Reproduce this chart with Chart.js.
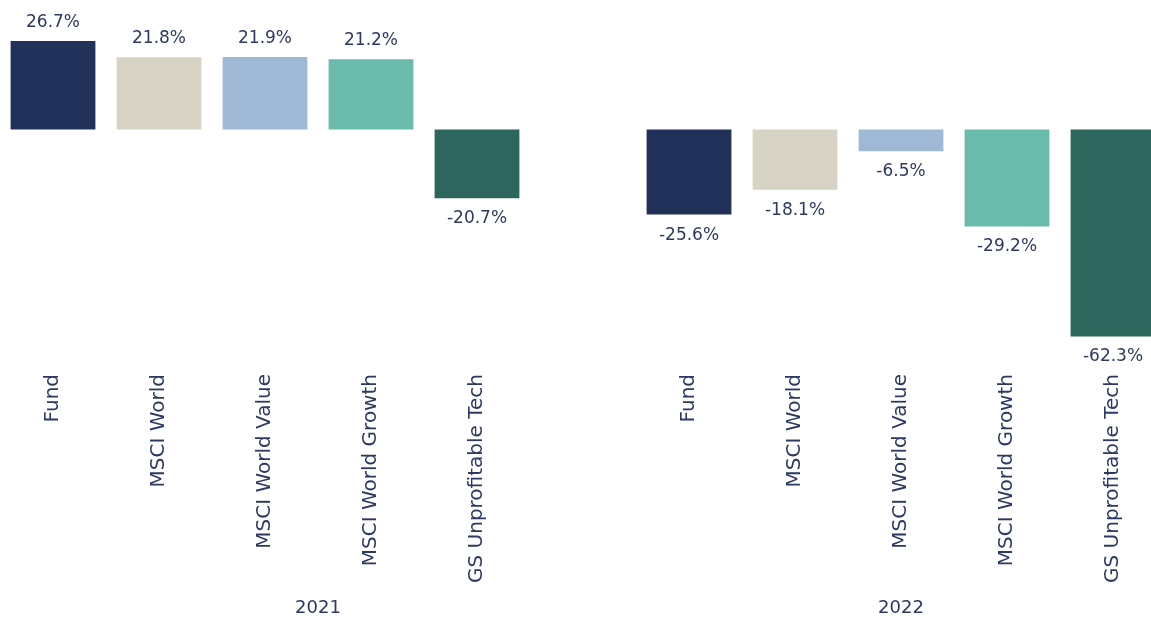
<!DOCTYPE html>
<html>
<head>
<meta charset="utf-8">
<script src="https://cdn.jsdelivr.net/npm/chart.js@4.4.1/dist/chart.umd.min.js"></script>
<style>
  html, body { margin: 0; padding: 0; background: #ffffff; overflow: hidden; }
  #wrap { width: 1166px; height: 619px; }
</style>
</head>
<body>
<div id="wrap"><canvas id="grafico" width="1166" height="619"></canvas></div>
<script>
// Datos del gráfico
const categorias = ['Fund', 'MSCI World', 'MSCI World Value', 'MSCI World Growth', 'GS Unprofitable Tech',
    '',
    'Fund', 'MSCI World', 'MSCI World Value', 'MSCI World Growth', 'GS Unprofitable Tech'];
const valores = [26.7, 21.8, 21.9, 21.2, -20.7, null, -25.6, -18.1, -6.5, -29.2, -62.3];
const colores = ['#22315a', '#d6d3c4', '#9fb8d5', '#6bbbad', '#2d665d', '#ffffff',
    '#22315a', '#d6d3c4', '#9fb8d5', '#6bbbad', '#2d665d'];
const grupos = ['2021', '2022'];
const gruposDesde = [0, 6];
const gruposHasta = [5, 10];

const colorTexto = '#2c3a63';
const fuente = "'DejaVu Sans', sans-serif";

// Etiquetas de valor sobre / bajo cada barra
const etiquetasValor = {
    id: 'etiquetasValor',
    afterDatasetsDraw(chart) {
        const ctx = chart.ctx;
        const meta = chart.getDatasetMeta(0);
        ctx.save();
        ctx.font = '17px ' + fuente;
        ctx.fillStyle = colorTexto;
        ctx.textAlign = 'center';
        meta.data.forEach(function (bar, i) {
            const v = valores[i];
            if (v === null) return;
            const texto = v.toFixed(1) + '%';
            if (v >= 0) {
                ctx.textBaseline = 'bottom';
                ctx.fillText(texto, bar.x, bar.y - 10);
            } else {
                ctx.textBaseline = 'top';
                ctx.fillText(texto, bar.x, bar.y + 12);
            }
        });
        ctx.restore();
    }
};

// Etiquetas de año debajo del eje
const etiquetasGrupo = {
    id: 'etiquetasGrupo',
    afterDraw(chart) {
        const ctx = chart.ctx;
        const x = chart.scales.x;
        ctx.save();
        ctx.font = '18px ' + fuente;
        ctx.fillStyle = colorTexto;
        ctx.textAlign = 'center';
        ctx.textBaseline = 'middle';
        grupos.forEach(function (g, i) {
            const centro = (x.getPixelForValue(gruposDesde[i]) + x.getPixelForValue(gruposHasta[i])) / 2;
            ctx.fillText(g, centro, 608);
        });
        ctx.restore();
    }
};

const ctx = document.getElementById('grafico').getContext('2d');
const grafico = new Chart(ctx, {
    type: 'bar',
    data: {
        labels: categorias,
        datasets: [{
            data: valores,
            backgroundColor: colores,
            borderWidth: 0,
            barPercentage: 0.8,
            categoryPercentage: 1.0
        }]
    },
    options: {
        responsive: false,
        animation: false,
        layout: { padding: { top: 30, bottom: 0, left: 0, right: 0 } },
        plugins: {
            legend: { display: false },
            tooltip: { enabled: false }
        },
        scales: {
            x: {
                grid: { display: false, drawTicks: false },
                border: { display: false },
                ticks: {
                    color: colorTexto,
                    font: { family: fuente, size: 20 },
                    minRotation: 90,
                    maxRotation: 90,
                    autoSkip: false,
                    padding: 12
                },
                afterFit: function (scale) { scale.height = 257; }
            },
            y: {
                display: false,
                min: -70,
                max: 30
            }
        }
    },
    plugins: [etiquetasValor, etiquetasGrupo]
});
</script>
</body>
</html>
